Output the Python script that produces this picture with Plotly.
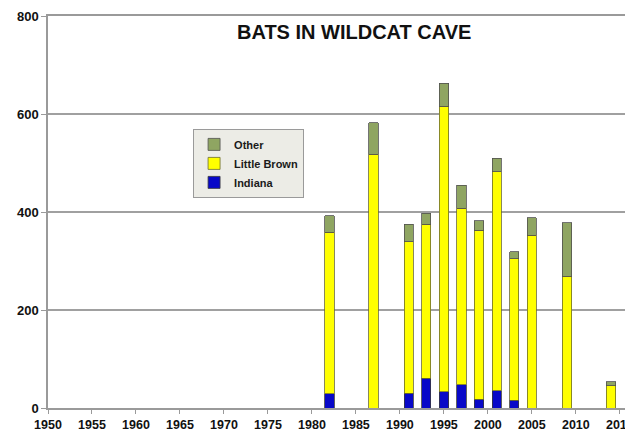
import plotly.graph_objects as go

years = [1982, 1987, 1991, 1993, 1995, 1997, 1999, 2001, 2003, 2005, 2009, 2014]
indiana = [29, None, 30, 61, 33, 47, 18, 35, 16, None, None, None]
little_brown = [330, 518, 309, 314, 583, 361, 345, 447, 289, 353, 269, 45]
other = [33, 64, 36, 22, 47, 47, 19, 28, 14, 35, 109, 9]

x_ticks = list(range(1950, 2016, 5))
y_ticks = [0, 200, 400, 600, 800]

FONT = "Liberation Sans, Arial, sans-serif"
bar_w = 1.05

fig = go.Figure()
fig.add_trace(go.Bar(x=years, y=indiana, name="Indiana", width=bar_w,
                     marker=dict(color="#0808C8", line=dict(color="#3a3a3a", width=0.8))))
fig.add_trace(go.Bar(x=years, y=little_brown, name="Little Brown", width=bar_w,
                     marker=dict(color="#FFFF00", line=dict(color="#6b6b30", width=0.8))))
fig.add_trace(go.Bar(x=years, y=other, name="Other", width=bar_w,
                     marker=dict(color="#8FA562", line=dict(color="#505050", width=0.8))))

# page body has an 8px default margin, so the figure is 625x428 placed at (8, 8)
fig.update_layout(
    barmode="stack",
    width=625, height=428,
    margin=dict(l=40, r=7, t=8, b=28, autoexpand=False),
    paper_bgcolor="white", plot_bgcolor="white",
    font=dict(family=FONT, size=13, color="#111111"),
    showlegend=True,
    legend=dict(
        x=0.251, y=0.712, xanchor="left", yanchor="top",
        bgcolor="#ECECE6", bordercolor="#9a9a9a", borderwidth=1,
        font=dict(family=FONT, size=11, color="#1a1a1a", weight="bold"),
        traceorder="reversed", itemwidth=30, tracegroupgap=0,
    ),
    annotations=[dict(
        text="<b>BATS IN WILDCAT CAVE</b>", x=0.529, y=0.959, xref="paper", yref="paper",
        xanchor="center", yanchor="middle", showarrow=False,
        font=dict(family=FONT, size=20, color="#111111"),
    )],
)
fig.update_xaxes(
    range=[1950, 2015.7], tickvals=x_ticks, ticktext=[str(v) for v in x_ticks],
    showgrid=False, showline=True, linecolor="#9a9a9a", linewidth=1.5, mirror=True,
    ticks="outside", ticklen=4, tickcolor="#9a9a9a", zeroline=False, automargin=False,
    ticklabeloverflow="allow",
    tickfont=dict(family=FONT, size=12.5, color="#111111", weight="bold"),
)
fig.update_yaxes(
    range=[0, 800], tickvals=y_ticks, ticktext=[str(v) for v in y_ticks],
    showgrid=True, gridcolor="#a0a0a0", gridwidth=1.5,
    showline=True, linecolor="#9a9a9a", linewidth=1.5, mirror=True,
    ticks="outside", ticklen=5, tickcolor="#9a9a9a", zeroline=False, automargin=False,
    ticklabeloverflow="allow",
    tickfont=dict(family=FONT, size=13, color="#111111", weight="bold"),
)

fig.write_html("out.html")
